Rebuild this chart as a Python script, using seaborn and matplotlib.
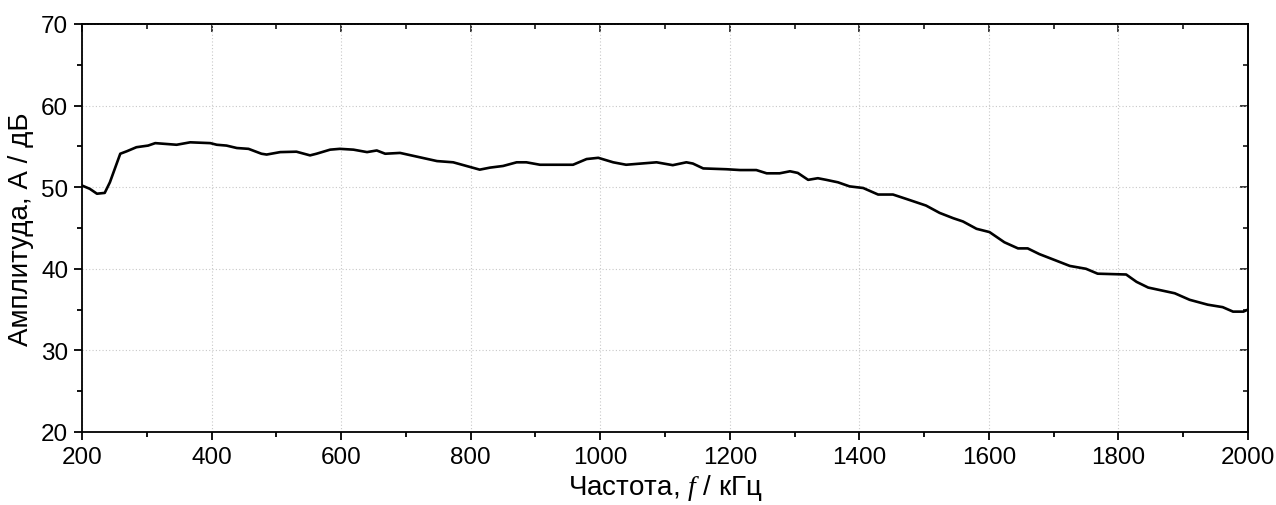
import numpy as np
import pandas as pd
import matplotlib
matplotlib.use("Agg")
import matplotlib.pyplot as plt
import seaborn as sns
from matplotlib.ticker import MultipleLocator

freq = [200, 212, 223, 235, 243, 259, 269, 284, 302, 313, 346, 367, 398, 408, 423, 439,
        457, 477, 485, 506, 531, 552, 562, 583, 598, 619, 640, 655, 668, 691, 748, 773,
        814, 830, 850, 871, 886, 907, 958, 979, 997, 1020, 1040, 1087, 1112, 1133, 1143,
        1159, 1195, 1216, 1241, 1257, 1277, 1293, 1305, 1321, 1336, 1349, 1367, 1385,
        1406, 1429, 1452, 1473, 1503, 1524, 1545, 1560, 1581, 1601, 1624, 1645, 1660,
        1678, 1704, 1725, 1750, 1768, 1812, 1828, 1846, 1887, 1910, 1938, 1961, 1977,
        1993, 2000]
amp = [50.2, 49.8, 49.2, 49.3, 50.6, 54.1, 54.4, 54.9, 55.1, 55.4, 55.2, 55.5, 55.4, 55.2,
       55.1, 54.8, 54.7, 54.1, 54.0, 54.3, 54.35, 53.9, 54.1, 54.6, 54.7, 54.6, 54.3, 54.5,
       54.1, 54.2, 53.2, 53.05, 52.15, 52.4, 52.6, 53.05, 53.05, 52.75, 52.75, 53.45, 53.6,
       53.05, 52.75, 53.05, 52.7, 53.05, 52.9, 52.3, 52.2, 52.1, 52.1, 51.7, 51.7, 51.95,
       51.75, 50.9, 51.1, 50.9, 50.6, 50.1, 49.9, 49.1, 49.1, 48.55, 47.75, 46.85, 46.2,
       45.8, 44.9, 44.5, 43.25, 42.5, 42.5, 41.8, 41.0, 40.35, 40.0, 39.4, 39.3, 38.4,
       37.7, 37.0, 36.2, 35.6, 35.3, 34.75, 34.75, 35.0]

x_label = "Частота, $\\mathit{f}$ / кГц"
y_label = "Амплитуда, А / дБ"

sns.set_style("ticks")
plt.rcParams["font.family"] = ["Liberation Sans", "DejaVu Sans"]
plt.rcParams["mathtext.fontset"] = "custom"
plt.rcParams["mathtext.it"] = "Liberation Serif:italic"
plt.rcParams["mathtext.rm"] = "Liberation Sans"

df = pd.DataFrame({"f": freq, "A": amp})

fig = plt.figure(figsize=(12.76, 5.06), dpi=100)
ax = fig.add_axes([0.0643, 0.1443, 0.9137, 0.8063])

sns.lineplot(data=df, x="f", y="A", color="black", linewidth=1.9, ax=ax)

ax.set_xlim(200, 2000)
ax.set_ylim(20, 70)
ax.xaxis.set_major_locator(MultipleLocator(200))
ax.xaxis.set_minor_locator(MultipleLocator(100))
ax.yaxis.set_major_locator(MultipleLocator(10))
ax.yaxis.set_minor_locator(MultipleLocator(5))

ax.grid(True, which="major", linestyle=(0, (1, 2)), color="#c8c8c8", linewidth=0.8)
ax.set_axisbelow(True)

for s in ax.spines.values():
    s.set_visible(True)
    s.set_linewidth(1.3)
    s.set_color("black")

ax.tick_params(axis="both", which="major", direction="out", length=6, width=1.3,
               labelsize=17.5, pad=4, colors="black")
ax.tick_params(axis="both", which="minor", direction="out", length=3.5, width=1.3,
               colors="black")

top = ax.secondary_xaxis("top")
top.xaxis.set_major_locator(MultipleLocator(200))
top.xaxis.set_minor_locator(MultipleLocator(100))
top.tick_params(which="major", direction="in", length=6, width=1.3, labeltop=False)
top.tick_params(which="minor", direction="in", length=3.5, width=1.3)
top.spines["top"].set_linewidth(1.3)

right = ax.secondary_yaxis("right")
right.yaxis.set_major_locator(MultipleLocator(10))
right.yaxis.set_minor_locator(MultipleLocator(5))
right.tick_params(which="major", direction="in", length=6, width=1.3, labelright=False)
right.tick_params(which="minor", direction="in", length=3.5, width=1.3)
right.spines["right"].set_linewidth(1.3)

ax.set_xlabel(x_label, fontsize=20, labelpad=3, color="black")
ax.set_ylabel(y_label, fontsize=20, labelpad=5, color="black")

fig.savefig("out.png", dpi=100)
